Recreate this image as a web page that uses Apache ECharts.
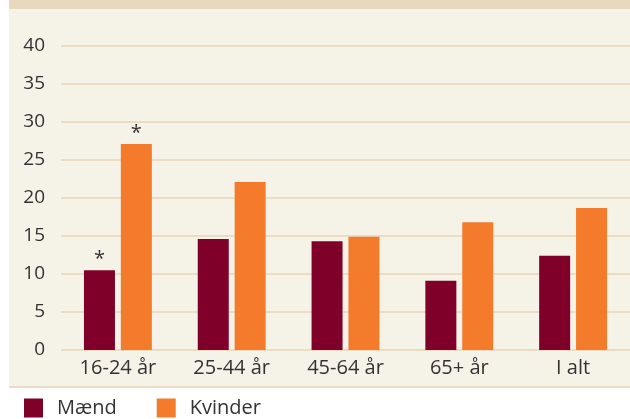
<!DOCTYPE html>
<html><head><meta charset="utf-8">
<script src="https://cdn.jsdelivr.net/npm/echarts@6/dist/echarts.min.js"></script>
<style>html,body{margin:0;padding:0;background:#fff}#c{width:630px;height:419px}</style>
</head><body><div id="c"></div>
<script>
const categories = ['16-24 år', '25-44 år', '45-64 år', '65+ år', 'I alt'];
const maend = [10.5, 14.6, 14.3, 9.1, 12.4];
const kvinder = [27.1, 22.1, 14.9, 16.8, 18.7];
const maendStar = [true, false, false, false, false];
const kvinderStar = [true, false, false, false, false];
const yTicks = [0, 5, 10, 15, 20, 25, 30, 35, 40];

const font = '"Open Sans", sans-serif';
function mk(vals, stars) {
  return vals.map((v, i) => stars[i] ? {value: v, label: {show: true, position: 'top', formatter: '*', fontSize: 20, color: '#333', fontFamily: font, distance: 1}} : v);
}
const chart = echarts.init(document.getElementById('c'));
chart.setOption({
  animation: false,
  backgroundColor: '#ffffff',
  graphic: [
    {type: 'rect', shape: {x: 9, y: 0, width: 621, height: 387}, style: {fill: '#f5f2e7'}, z: -10, silent: true},
    {type: 'rect', shape: {x: 9, y: 0, width: 621, height: 9}, style: {fill: '#e8d8bd'}, z: -9, silent: true},
    {type: 'rect', shape: {x: 9, y: 386, width: 621, height: 2}, style: {fill: '#ecdcc4'}, z: -9, silent: true}
  ],
  grid: {left: 61, right: 0, top: 46, bottom: 69},
  legend: {
    left: 24, top: 398, padding: 0, itemWidth: 19, itemHeight: 19, itemGap: 40,
    icon: 'rect',
    textStyle: {fontSize: 20, color: '#333', fontFamily: font, padding: [0, 0, 0, 9]},
    data: ['Mænd', 'Kvinder']
  },
  xAxis: {
    type: 'category', data: categories,
    axisLine: {show: false}, axisTick: {show: false},
    axisLabel: {fontSize: 20, color: '#333', fontFamily: font, margin: 8}
  },
  yAxis: {
    type: 'value', min: 0, max: 40, interval: 5,
    axisLine: {show: false}, axisTick: {show: false},
    axisLabel: {fontSize: 19, color: '#333', fontFamily: font, margin: 16,
      formatter: v => yTicks.includes(v) ? String(v) : ''},
    splitLine: {lineStyle: {color: '#ecdcc4', width: 2}}
  },
  series: [
    {name: 'Mænd', type: 'bar', data: mk(maend, maendStar), barWidth: 31, barGap: '19%', itemStyle: {color: '#7f0028'}},
    {name: 'Kvinder', type: 'bar', data: mk(kvinder, kvinderStar), barWidth: 31, itemStyle: {color: '#f47b2c'}}
  ]
});
</script></body></html>
